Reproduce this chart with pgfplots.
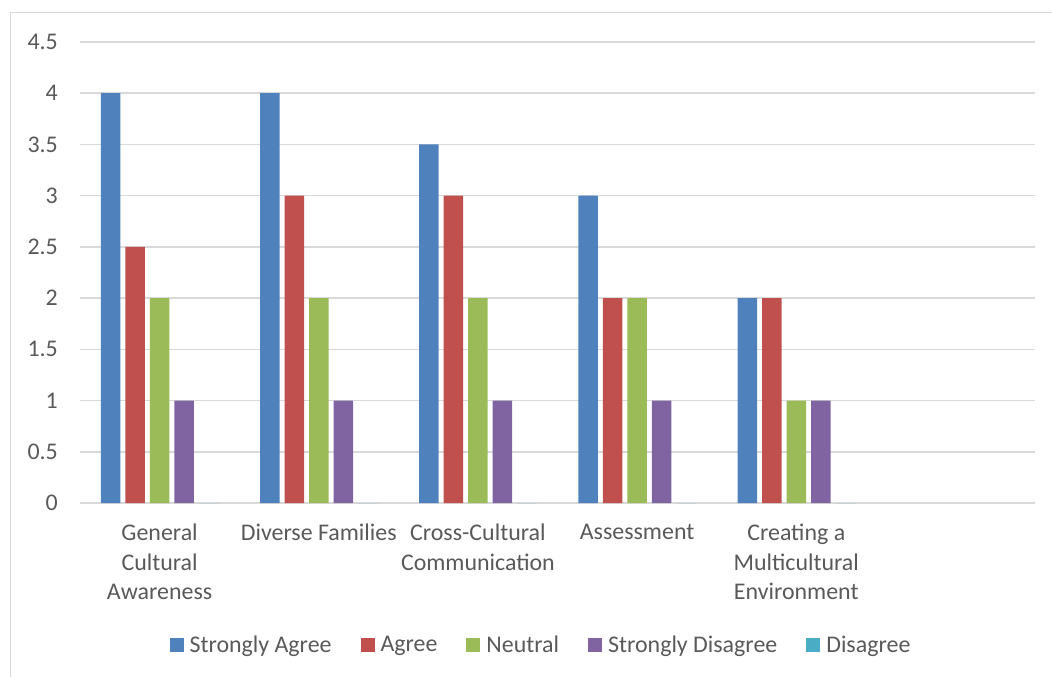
\documentclass[border=0pt]{standalone}
\usepackage{pgfplots}
\pgfplotsset{compat=1.18}
\usepackage{fontspec}
\setmainfont{Carlito}

\definecolor{sagree}{HTML}{4F81BD}
\definecolor{agree}{HTML}{C0504D}
\definecolor{neutral}{HTML}{9BBB59}
\definecolor{sdisagree}{HTML}{8064A2}
\definecolor{disagree}{HTML}{4BACC6}
\definecolor{txt}{HTML}{595959}
\definecolor{gridc}{HTML}{D9D9D9}

\newcommand{\chartfont}{\fontsize{24}{29.5}\selectfont}

\begin{document}
\begin{tikzpicture}[x=1bp,y=1bp]
% chart frame (top and left edges)
\draw[gridc, line width=1.5bp] (10.5,-677) -- (10.5,-12.5) -- (1052,-12.5);

\begin{axis}[
  at={(80bp,-503bp)}, anchor=south west,
  scale only axis,
  width=955bp, height=461bp,
  ybar=5bp, bar width=19.5bp,
  xmin=-0.5, xmax=5.5,
  ymin=0, ymax=4.5,
  xtick={0,1,2,3,4},
  xticklabels={General\\Cultural\\Awareness, Diverse Families, Cross-Cultural\\Communication, Assessment, Creating a\\Multicultural\\Environment},
  ytick={0,0.5,...,4.5},
  yticklabels={0,0.5,1,1.5,2,2.5,3,3.5,4,4.5},
  ymajorgrids,
  major grid style={gridc, line width=1.5bp},
  axis line style={draw=none},
  major tick length=0pt,
  tick label style={font=\chartfont, text=txt},
  yticklabel style={anchor=east, inner sep=0pt, xshift=-22bp},
  xticklabel style={anchor=north, inner sep=0pt, align=center, yshift=-21bp},
  legend columns=5,
  legend image code/.code={\fill[#1] (0bp,-7bp) rectangle (14bp,7bp);},
  legend style={draw=none, fill=none, font=\chartfont, text=txt,
    at={(0.4827,-0.308)}, anchor=center,
    /tikz/every odd column/.append style={column sep=4bp},
    /tikz/every even column/.append style={column sep=27bp},
    nodes={inner sep=2bp}},
]
\addplot[fill=sagree, draw=none] coordinates {(0,4) (1,4) (2,3.5) (3,3) (4,2)};
\addplot[fill=agree, draw=none] coordinates {(0,2.5) (1,3) (2,3) (3,2) (4,2)};
\addplot[fill=neutral, draw=none] coordinates {(0,2) (1,2) (2,2) (3,2) (4,1)};
\addplot[fill=sdisagree, draw=none] coordinates {(0,1) (1,1) (2,1) (3,1) (4,1)};
\addplot[fill=disagree, draw=none] coordinates {(0,0) (1,0) (2,0) (3,0) (4,0)};
\legend{Strongly Agree, Agree, Neutral, Strongly Disagree, Disagree}
\end{axis}

\pgfresetboundingbox
\useasboundingbox (0,0) rectangle (1052,-677);
\end{tikzpicture}
\end{document}
